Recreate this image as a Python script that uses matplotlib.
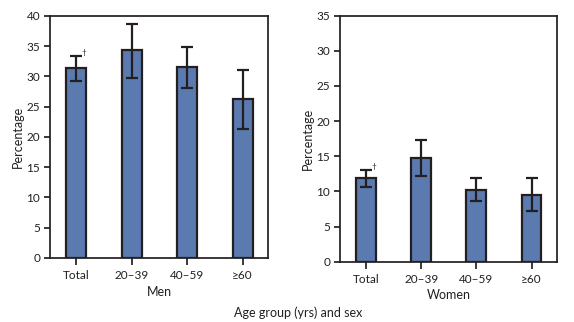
import matplotlib
matplotlib.use("Agg")
import matplotlib.pyplot as plt
import numpy as np

plt.rcParams['font.family'] = ['Lato', 'DejaVu Sans']

categories = ["Total", "20\u201339", "40\u201359", "\u226560"]
men_values = [31.4, 34.4, 31.6, 26.2]
men_upper = [33.4, 38.7, 34.8, 31.0]
men_lower = [29.2, 29.8, 28.1, 21.3]
women_values = [11.9, 14.8, 10.2, 9.5]
women_upper = [13.0, 17.3, 11.9, 11.9]
women_lower = [10.6, 12.2, 8.6, 7.25]
men_yticks = [0, 5, 10, 15, 20, 25, 30, 35, 40]
women_yticks = [0, 5, 10, 15, 20, 25, 30, 35]

bar_color = "#5b7bb0"
dark = "#231f20"

fig = plt.figure(figsize=(5.74, 3.22), dpi=100)
ax1 = fig.add_axes([0.0871, 0.1988, 0.380, 0.7516])
ax2 = fig.add_axes([0.5923, 0.1873, 0.378, 0.764])

def draw(ax, vals, up, lo, yticks, xlabel):
    x = np.arange(len(categories))
    vals = np.array(vals); up = np.array(up); lo = np.array(lo)
    ax.bar(x, vals, width=0.36, color=bar_color, edgecolor=dark, linewidth=1.6, zorder=2)
    ax.errorbar(x, vals, yerr=[vals - lo, up - vals], fmt='none', ecolor=dark,
                elinewidth=1.6, capsize=4.3, capthick=1.6, zorder=3)
    ax.text(x[0] + 0.1, up[0], "\u2020", fontsize=6, color=dark, ha='left', va='bottom')
    ax.set_xlim(-0.47, 3.46)
    ax.set_ylim(yticks[0], yticks[-1])
    ax.set_yticks(yticks)
    ax.set_xticks(x)
    ax.set_xticklabels(categories)
    for s in ax.spines.values():
        s.set_linewidth(1.25)
        s.set_color(dark)
    ax.tick_params(axis='both', direction='out', length=4, width=1.25, color=dark,
                   labelsize=8.5, labelcolor=dark, pad=3)
    ax.tick_params(axis='x', length=5, pad=4)
    ax.set_ylabel("Percentage", fontsize=9, color=dark, labelpad=2)
    ax.set_xlabel(xlabel, fontsize=9, color=dark, labelpad=3)

draw(ax1, men_values, men_upper, men_lower, men_yticks, "Men")
draw(ax2, women_values, women_upper, women_lower, women_yticks, "Women")

fig.text(298/574, 1 - 313/322, "Age group (yrs) and sex", fontsize=9, color=dark,
         ha='center', va='center')

fig.savefig("out.png", dpi=100)
